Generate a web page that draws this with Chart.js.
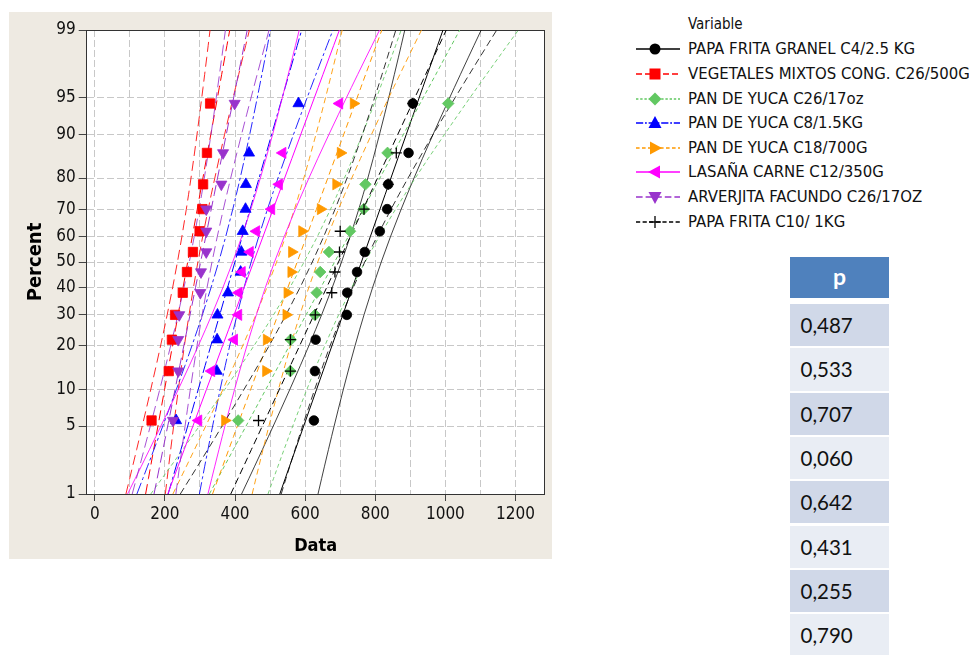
<!DOCTYPE html>
<html><head><meta charset="utf-8">
<script src="https://cdn.jsdelivr.net/npm/chart.js@4.4.1/dist/chart.umd.min.js"></script>
<style>
html,body{margin:0;padding:0;background:#fff;width:969px;height:655px;overflow:hidden;}
body{position:relative;font-family:'DejaVu Sans Condensed','DejaVu Sans',sans-serif;}
#wrap{position:absolute;left:9px;top:12px;width:543px;height:547px;background:#eeeae2;}
canvas{display:block;}
.leg{position:absolute;left:636px;height:24px;line-height:24px;font-size:16.6px;color:#111;white-space:nowrap;}
.leg svg{position:absolute;left:0;top:0;}
.leg span{position:absolute;left:52px;top:0;}
.tbl{position:absolute;left:790px;width:99px;font-family:Lato,'Open Sans',sans-serif;}
</style></head><body>
<div id="wrap"><canvas id="c" width="543" height="547"></canvas></div>
<div id="legend"></div>
<div id="table"></div>
<script>
// ---------- data ----------
const seriesNames = [
  "PAPA FRITA GRANEL C4/2.5 KG",
  "VEGETALES MIXTOS CONG. C26/500G",
  "PAN DE YUCA C26/17oz",
  "PAN DE YUCA C8/1.5KG",
  "PAN DE YUCA C18/700G",
  "LASAÑA CARNE C12/350G",
  "ARVERJITA FACUNDO C26/17OZ",
  "PAPA FRITA C10/ 1KG"
];
const papaFritaGranel  = [625, 628, 630, 719, 720, 748, 770, 813, 834, 837, 895, 907];
const vegetalesMixtos  = [162, 211, 220, 229, 251, 263, 280, 299, 307, 309, 320, 329];
const panYuca17oz      = [409, 558, 559, 628, 633, 643, 668, 728, 767, 772, 835, 1008];
const panYuca15kg      = [232, 348, 349, 350, 380, 416, 418, 422, 430, 431, 440, 581];
const panYuca700g      = [371, 488, 490, 546, 549, 560, 562, 591, 644, 688, 701, 738];
const lasanaCarne      = [296, 333, 398, 410, 411, 420, 443, 461, 504, 526, 536, 698];
const arverjita        = [223, 238, 238, 241, 301, 303, 318, 318, 318, 361, 366, 399];
const papaFritaC10     = [467, 558, 558, 629, 676, 685, 698, 700, 768, 837, 860, 907];
const plotPercents = [5.6, 13.7, 21.8, 29.8, 37.9, 46.0, 54.0, 62.1, 70.2, 78.2, 86.3, 94.4];
const percentTicks = [1, 5, 10, 20, 30, 40, 50, 60, 70, 80, 90, 95, 99];
const xTickLabels  = [0, 200, 400, 600, 800, 1000, 1200];
const xGridLines   = [0, 100, 200, 300, 400, 500, 600, 700, 800, 900, 1000, 1100, 1200];
const bandPercents = [1, 1.5, 2, 3, 4, 5, 7, 10, 15, 20, 25, 30, 40, 50, 60, 70, 75, 80, 85, 90, 93, 95, 96, 97, 98, 98.5, 99];
const pValues = [0.487, 0.533, 0.707, 0.060, 0.642, 0.431, 0.255, 0.790];

const seriesValues = [papaFritaGranel, vegetalesMixtos, panYuca17oz, panYuca15kg, panYuca700g, lasanaCarne, arverjita, papaFritaC10];

// ---------- styles ----------
const styles = [
  {color:'#000000', line:'rgba(0,0,0,0.75)',     dash:[],          mk:'circle', r:4.8, rot:0},
  {color:'#ff0000', line:'rgba(255,0,0,0.85)',   dash:[10,5],      mk:'rect',   r:6.6, rot:0},
  {color:'#62c862', line:'rgba(98,200,98,0.85)', dash:[4,3],       mk:'rectRot',r:5.8, rot:0},
  {color:'#0000ff', line:'rgba(0,0,255,0.85)',   dash:[12,3,3,3],  mk:'triangle',r:6.4, rot:0},
  {color:'#ff9900', line:'rgba(255,153,0,0.9)',  dash:[6,4],       mk:'triangle',r:6.4, rot:90},
  {color:'#ff00ff', line:'rgba(255,0,255,0.85)', dash:[],          mk:'triangle',r:6.4, rot:-90},
  {color:'#9933cc', line:'rgba(153,51,204,0.85)',dash:[11,5],      mk:'triangle',r:6.4, rot:180},
  {color:'#000000', line:'rgba(0,0,0,0.8)',      dash:[7,4],       mk:'cross',  r:5.5, rot:0}
];

function probit(p){
  const a=[-3.969683028665376e+01,2.209460984245205e+02,-2.759285104469687e+02,1.383577518672690e+02,-3.066479806614716e+01,2.506628277459239e+00];
  const b=[-5.447609879822406e+01,1.615858368580409e+02,-1.556989798598866e+02,6.680131188771972e+01,-1.328068155288572e+01];
  const c=[-7.784894002430293e-03,-3.223964580411365e-01,-2.400758277161838e+00,-2.549732539343734e+00,4.374664141464968e+00,2.938163982698783e+00];
  const d=[7.784695709041462e-03,3.224671290700398e-01,2.445134137142996e+00,3.754408661907416e+00];
  const pl=0.02425, ph=1-pl; let q,r;
  if(p<pl){q=Math.sqrt(-2*Math.log(p));return (((((c[0]*q+c[1])*q+c[2])*q+c[3])*q+c[4])*q+c[5])/((((d[0]*q+d[1])*q+d[2])*q+d[3])*q+1);}
  if(p<=ph){q=p-0.5;r=q*q;return (((((a[0]*r+a[1])*r+a[2])*r+a[3])*r+a[4])*r+a[5])*q/(((((b[0]*r+b[1])*r+b[2])*r+b[3])*r+b[4])*r+1);}
  q=Math.sqrt(-2*Math.log(1-p));return -(((((c[0]*q+c[1])*q+c[2])*q+c[3])*q+c[4])*q+c[5])/((((d[0]*q+d[1])*q+d[2])*q+d[3])*q+1);
}

// ---------- datasets ----------
const datasets = [];
seriesValues.forEach((vals, i) => {
  const st = styles[i];
  const n = vals.length;
  const mean = vals.reduce((s,v)=>s+v,0)/n;
  const sd = Math.sqrt(vals.reduce((s,v)=>s+(v-mean)*(v-mean),0)/(n-1));
  const fit = [], lo = [], hi = [];
  bandPercents.forEach(p => {
    const z = probit(p/100);
    const xp = mean + sd*z;
    const h = 1.96*sd*Math.sqrt(1/n + z*z/(2*n));
    fit.push({x:xp, y:z}); lo.push({x:xp-h, y:z}); hi.push({x:xp+h, y:z});
  });
  const lineBase = {showLine:true, pointRadius:0, borderWidth:1, borderDash:st.dash, fill:false, tension:0};
  datasets.push(Object.assign({label:seriesNames[i]+' fit', data:fit, borderColor:st.color, order:100+(7-i)}, lineBase));
  datasets.push(Object.assign({label:seriesNames[i]+' lo', data:lo, borderColor:st.line, order:100+(7-i)}, lineBase));
  datasets.push(Object.assign({label:seriesNames[i]+' hi', data:hi, borderColor:st.line, order:100+(7-i)}, lineBase));
  datasets.push({
    label:seriesNames[i],
    data: vals.map((v,k)=>({x:v, y:probit(plotPercents[k]/100)})),
    showLine:false,
    pointStyle:st.mk, pointRadius:st.r, pointRotation:st.rot,
    backgroundColor:st.color, borderColor:st.color, borderWidth: st.mk==='cross'?1.3:0.8,
    order:(7-i)
  });
});

const tickFont = {family:"'DejaVu Sans Condensed','DejaVu Sans',sans-serif", size:17};
const zMin = probit(percentTicks[0]/100), zMax = probit(percentTicks[percentTicks.length-1]/100);

const bgPlugin = {id:'bg', beforeDraw(chart){const {ctx, chartArea:a}=chart; ctx.save(); ctx.fillStyle='#ffffff'; ctx.fillRect(a.left,a.top,a.right-a.left,a.bottom-a.top); ctx.restore();}};

new Chart(document.getElementById('c'), {
  type:'scatter',
  data:{datasets},
  options:{
    responsive:false, animation:false, devicePixelRatio:1,
    layout:{padding:{top:18, right:3.7, left:0, bottom:0}},
    plugins:{legend:{display:false}, tooltip:{enabled:false}},
    scales:{
      x:{
        type:'linear', position:'bottom', min:-23, max:1283,
        afterBuildTicks:s=>{s.ticks = xGridLines.map(v=>({value:v}));},
        afterFit:s=>{s.height=65;},
        ticks:{autoSkip:false, maxRotation:0, color:'#111', font:tickFont, padding:3,
               callback:(v)=> xTickLabels.includes(v) ? String(v) : ''},
        grid:{color:'#c8c8c8', lineWidth:1, tickLength:7,
              tickColor:(ctx)=> (ctx.tick && xTickLabels.includes(ctx.tick.value)) ? '#444' : 'rgba(0,0,0,0)'},
        border:{display:true, color:'#333', width:1, dash:[7,3]},
        title:{display:true, text:'Data', color:'#000', font:{family:"'DejaVu Sans Condensed','DejaVu Sans',sans-serif", size:18, weight:'bold'}, padding:{top:0,bottom:2}}
      },
      y:{
        type:'linear', position:'left', min:zMin, max:zMax,
        afterBuildTicks:s=>{s.ticks = percentTicks.map(p=>({value:probit(p/100)}));},
        afterFit:s=>{s.width=77.7;},
        ticks:{autoSkip:false, color:'#111', font:tickFont, padding:3,
               callback:(v,idx)=> String(percentTicks[idx])},
        grid:{color:'#c8c8c8', lineWidth:1, tickLength:8, tickColor:'#444'},
        border:{display:true, color:'#333', width:1, dash:[7,3]},
        title:{display:true, text:'Percent', color:'#000', font:{family:"'DejaVu Sans Condensed','DejaVu Sans',sans-serif", size:20, weight:'bold'}, padding:{top:14.7,bottom:0}}
      },
      x2:{type:'linear', position:'top', display:true, grid:{display:false}, ticks:{display:false},
          border:{display:true,color:'#333',width:1}, afterFit:s=>{s.height=0;}},
      y2:{type:'linear', position:'right', display:true, grid:{display:false}, ticks:{display:false},
          border:{display:true,color:'#333',width:1}, afterFit:s=>{s.width=0;}}
    }
  },
  plugins:[bgPlugin]
});

// ---------- HTML legend ----------
function markerSvg(i, cx, cy){
  const st = styles[i], c = st.color;
  switch(i){
    case 0: return `<circle cx="${cx}" cy="${cy}" r="5.5" fill="${c}"/>`;
    case 1: return `<rect x="${cx-5.5}" y="${cy-5.5}" width="11" height="11" fill="${c}"/>`;
    case 2: return `<polygon points="${cx},${cy-6.5} ${cx+6.5},${cy} ${cx},${cy+6.5} ${cx-6.5},${cy}" fill="${c}"/>`;
    case 3: return `<polygon points="${cx},${cy-7} ${cx+6.5},${cy+5} ${cx-6.5},${cy+5}" fill="${c}"/>`;
    case 4: return `<polygon points="${cx+7},${cy} ${cx-5},${cy-6.5} ${cx-5},${cy+6.5}" fill="${c}"/>`;
    case 5: return `<polygon points="${cx-7},${cy} ${cx+5},${cy-6.5} ${cx+5},${cy+6.5}" fill="${c}"/>`;
    case 6: return `<polygon points="${cx},${cy+7} ${cx+6.5},${cy-5} ${cx-6.5},${cy-5}" fill="${c}"/>`;
    default: return `<line x1="${cx-6}" y1="${cy}" x2="${cx+6}" y2="${cy}" stroke="${c}" stroke-width="1.3"/><line x1="${cx}" y1="${cy-6}" x2="${cx}" y2="${cy+6}" stroke="${c}" stroke-width="1.3"/>`;
  }
}
const legendEl = document.getElementById('legend');
let html = `<div class="leg" style="top:12px;font-size:15px;"><span>Variable</span></div>`;
seriesNames.forEach((name,i)=>{
  const st = styles[i];
  const top = 49.3 + 24.6*i - 12;
  html += `<div class="leg" style="top:${top}px"><svg width="50" height="24">`+
    `<line x1="0" y1="12" x2="44" y2="12" stroke="${st.color}" stroke-width="1.4" stroke-dasharray="${st.dash.length?st.dash.map(d=>d*0.6).join(' '):'none'}"/>`+
    markerSvg(i,19,12)+`</svg><span>${name}</span></div>`;
});
legendEl.innerHTML = html;

// ---------- HTML table ----------
const tableEl = document.getElementById('table');
let t = `<div class="tbl" style="top:257px;height:41px;background:#4f81bd;color:#fff;font-weight:bold;font-size:23px;line-height:38px;text-align:center;">p</div>`;
pValues.forEach((p,i)=>{
  const top = 304 + 44.3*i;
  const bg = i%2===0 ? '#d0d8e8' : '#e9edf4';
  t += `<div class="tbl" style="top:${top}px;height:42.3px;background:${bg};color:#111;font-size:20.5px;line-height:42px;"><span style="padding-left:10.5px">${p.toFixed(3).replace('.',',')}</span></div>`;
});
tableEl.innerHTML = t;
</script>
</body></html>
